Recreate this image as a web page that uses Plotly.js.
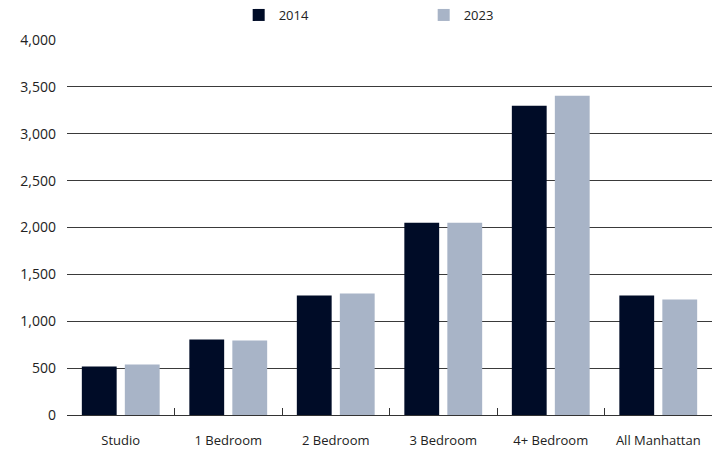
<!DOCTYPE html>
<html>
<head>
<meta charset="utf-8">
<script src="https://cdn.plot.ly/plotly-3.0.1.min.js"></script>
<style>html,body{margin:0;padding:0;background:#fff;}#chart{width:724px;height:452px;}</style>
</head>
<body>
<div id="chart"></div>
<script>
const categories = ["Studio", "1 Bedroom", "2 Bedroom", "3 Bedroom", "4+ Bedroom", "All Manhattan"];
const values2014 = [517, 805, 1274, 2052, 3300, 1274];
const values2023 = [538, 794, 1295, 2052, 3406, 1231];
const yTickVals = [0, 500, 1000, 1500, 2000, 2500, 3000, 3500, 4000];

const traces = [
  {type: "bar", name: "2014", x: categories, y: values2014, marker: {color: "#000c27"}},
  {type: "bar", name: "2023", x: categories, y: values2023, marker: {color: "#a8b4c7"}}
];

const layout = {
  width: 724, height: 452,
  margin: {l: 67, r: 12, t: 40, b: 37},
  paper_bgcolor: "#fff", plot_bgcolor: "#fff",
  font: {family: "'Open Sans', 'Noto Sans', sans-serif", size: 13, color: "#222"},
  barmode: "group", bargap: 0.2, bargroupgap: 0.19,
  showlegend: true,
  legend: {orientation: "h", x: 0.553, xanchor: "center", yref: "container", y: 1.0, yanchor: "top",
           entrywidth: 140, entrywidthmode: "pixels", font: {size: 13, color: "#222"}},
  xaxis: {showgrid: false, showline: true, linecolor: "#333", linewidth: 1.3,
          ticks: "inside", tickson: "boundaries", ticklen: 7, tickcolor: "#333",
          tickfont: {size: 13, color: "#222"}, ticklabelstandoff: 13},
  yaxis: {range: [0, 4000], tickvals: yTickVals, tickformat: ",d",
          showgrid: true, gridcolor: "#3a3a3a", gridwidth: 1.2, zeroline: false,
          showline: false, ticks: "", tickfont: {size: 14, color: "#222"}, ticklabelstandoff: 10}
};

Plotly.newPlot("chart", traces, layout, {displayModeBar: false, staticPlot: true});
</script>
</body>
</html>
